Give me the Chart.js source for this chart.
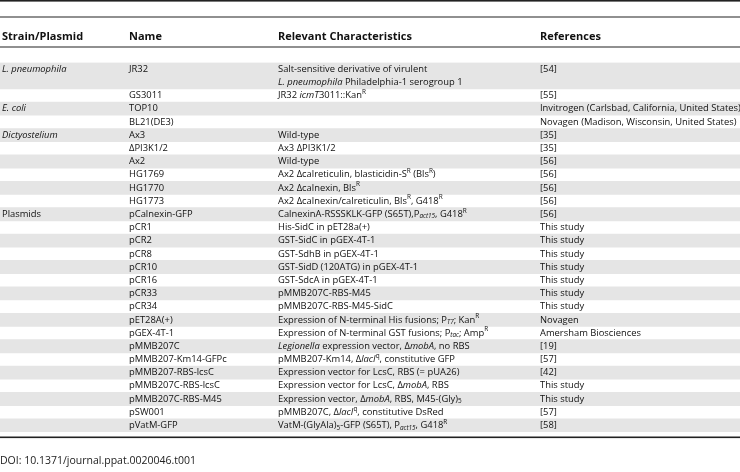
<!DOCTYPE html>
<html>
<head>
<meta charset="utf-8">
<script src="https://cdn.jsdelivr.net/npm/chart.js@4/dist/chart.umd.min.js"></script>
<style>
html,body{margin:0;padding:0;background:#fff;}
#wrap{position:relative;width:740px;height:472px;}
canvas{display:block;}
</style>
</head>
<body>
<div id="wrap"><canvas id="c" width="740" height="472"></canvas></div>
<script>
// ---- table content (markup: *italic*, ^{sup}, _{sub}, \n line break) ----
const headers = ["Strain/Plasmid", "Name", "Relevant Characteristics", "References"];
const strains = [
  "*L. pneumophila*", "", "*E. coli*", "", "*Dictyostelium*", "", "", "", "", "",
  "Plasmids", "", "", "", "", "", "", "", "", "", "", "", "", "", "", "", ""
];
const names = [
  "JR32", "GS3011", "TOP10", "BL21(DE3)", "Ax3", "ΔPI3K1/2", "Ax2", "HG1769", "HG1770", "HG1773",
  "pCalnexin-GFP", "pCR1", "pCR2", "pCR8", "pCR10", "pCR16", "pCR33", "pCR34", "pET28A(+)",
  "pGEX-4T-1", "pMMB207C", "pMMB207-Km14-GFPc", "pMMB207-RBS-lcsC", "pMMB207C-RBS-lcsC",
  "pMMB207C-RBS-M45", "pSW001", "pVatM-GFP"
];
const characteristics = [
  "Salt-sensitive derivative of virulent\n*L. pneumophila* Philadelphia-1 serogroup 1",
  "JR32 *icmT*3011::Kan^{R}",
  "",
  "",
  "Wild-type",
  "Ax3 ΔPI3K1/2",
  "Wild-type",
  "Ax2 Δcalreticulin, blasticidin-S^{R} (Bls^{R})",
  "Ax2 Δcalnexin, Bls^{R}",
  "Ax2 Δcalnexin/calreticulin, Bls^{R}, G418^{R}",
  "CalnexinA-RSSSKLK-GFP (S65T),P_{*act15*}, G418^{R}",
  "His-SidC in pET28a(+)",
  "GST-SidC in pGEX-4T-1",
  "GST-SdhB in pGEX-4T-1",
  "GST-SidD (120ATG) in pGEX-4T-1",
  "GST-SdcA in pGEX-4T-1",
  "pMMB207C-RBS-M45",
  "pMMB207C-RBS-M45-SidC",
  "Expression of N-terminal His fusions; P_{*T7*}; Kan^{R}",
  "Expression of N-terminal GST fusions; P_{*tac*}; Amp^{R}",
  "*Legionella* expression vector, Δ*mobA*, no RBS",
  "pMMB207-Km14, Δ*lacI*^{q}, constitutive GFP",
  "Expression vector for LcsC, RBS (= pUA26)",
  "Expression vector for LcsC, Δ*mobA*, RBS",
  "Expression vector, Δ*mobA*, RBS, M45-(Gly)_{5}",
  "pMMB207C, Δ*lacI*^{q}, constitutive DsRed",
  "VatM-(GlyAla)_{5}-GFP (S65T), P_{*act15*}, G418^{R}"
];
const references = [
  "[54]", "[55]", "Invitrogen (Carlsbad, California, United States)",
  "Novagen (Madison, Wisconsin, United States)", "[35]", "[35]", "[56]", "[56]", "[56]", "[56]",
  "[56]", "This study", "This study", "This study", "This study", "This study", "This study",
  "This study", "Novagen", "Amersham Biosciences", "[19]", "[57]", "[42]", "This study",
  "This study", "[57]", "[58]"
];
const footnote = "DOI: 10.1371/journal.ppat.0020046.t001";

// ---- build per-line table for the library ----
const columns = [strains, names, characteristics, references];
const lineRows = [];   // row index of each text line
const lineSub = [];    // sub-line index within the row
names.forEach((_, r) => {
  const n = Math.max(...columns.map(col => String(col[r]).split("\n").length));
  for (let k = 0; k < n; k++) { lineRows.push(r); lineSub.push(k); }
});
const lineLabels = lineRows.map((r, i) => "L" + i);
const bandData = lineRows.map(r => (r % 2 === 0 ? [0, 1] : null));

// ---- style ----
const FONT = "'Open Sans'";
const BODY = 9.4;
const SMALL = 6.4;
const TEXT = "#111";
const colX = [2, 129, 278, 540];

function drawRich(ctx, str, x, y, size) {
  let italic = false, mode = 0; // 0 normal, 1 sup, 2 sub
  let i = 0, buf = "";
  const flush = () => {
    if (!buf) return;
    const s = mode ? SMALL : size;
    ctx.font = (italic ? "italic " : "") + s + "px " + FONT;
    const dy = mode === 1 ? -3.4 : mode === 2 ? 2.3 : 0;
    ctx.fillText(buf, x, y + dy);
    x += ctx.measureText(buf).width;
    buf = "";
  };
  while (i < str.length) {
    const c = str[i];
    if (c === "*") { flush(); italic = !italic; i++; continue; }
    if ((c === "^" || c === "_") && str[i + 1] === "{") { flush(); mode = c === "^" ? 1 : 2; i += 2; continue; }
    if (c === "}" && mode) { flush(); mode = 0; i++; continue; }
    buf += c; i++;
  }
  flush();
}

const tablePlugin = {
  id: "tableText",
  afterDatasetsDraw(chart) {
    const ctx = chart.ctx;
    const ys = chart.scales.y;
    const W = chart.width;
    ctx.save();
    ctx.textBaseline = "middle";
    ctx.textAlign = "left";
    // rules
    ctx.fillStyle = "#222";
    ctx.fillRect(0, 0, W, 1.6);
    ctx.fillRect(0, 16.5, W, 1);
    ctx.fillRect(0, 46.5, W, 1);
    ctx.fillRect(0, 436.5, W, 1.6);
    ctx.fillStyle = TEXT;
    // header
    headers.forEach((h, c) => {
      ctx.font = "bold 11px " + FONT;
      ctx.fillText(h, colX[c], 37);
    });
    // body
    lineRows.forEach((r, i) => {
      const y = ys.getPixelForValue(i);
      columns.forEach((col, c) => {
        const parts = String(col[r]).split("\n");
        const t = parts[lineSub[i]];
        if (t) drawRich(ctx, t, colX[c], y, BODY);
      });
    });
    // footnote
    ctx.font = "10.5px " + FONT;
    ctx.fillStyle = "#222";
    ctx.fillText(footnote, 0, 461);
    ctx.restore();
  }
};

new Chart(document.getElementById("c"), {
  type: "bar",
  data: {
    labels: lineLabels,
    datasets: [{
      data: bandData,
      backgroundColor: "#e5e5e5",
      borderWidth: 0,
      barPercentage: 1,
      categoryPercentage: 1,
      borderSkipped: false
    }]
  },
  options: {
    indexAxis: "y",
    responsive: false,
    animation: false,
    devicePixelRatio: 1,
    layout: { padding: { top: 62.5, bottom: 40, left: 0, right: 0 } },
    scales: {
      x: { display: false, min: 0, max: 1 },
      y: { display: false }
    },
    plugins: { legend: { display: false }, tooltip: { enabled: false } }
  },
  plugins: [tablePlugin]
});
</script>
</body>
</html>
